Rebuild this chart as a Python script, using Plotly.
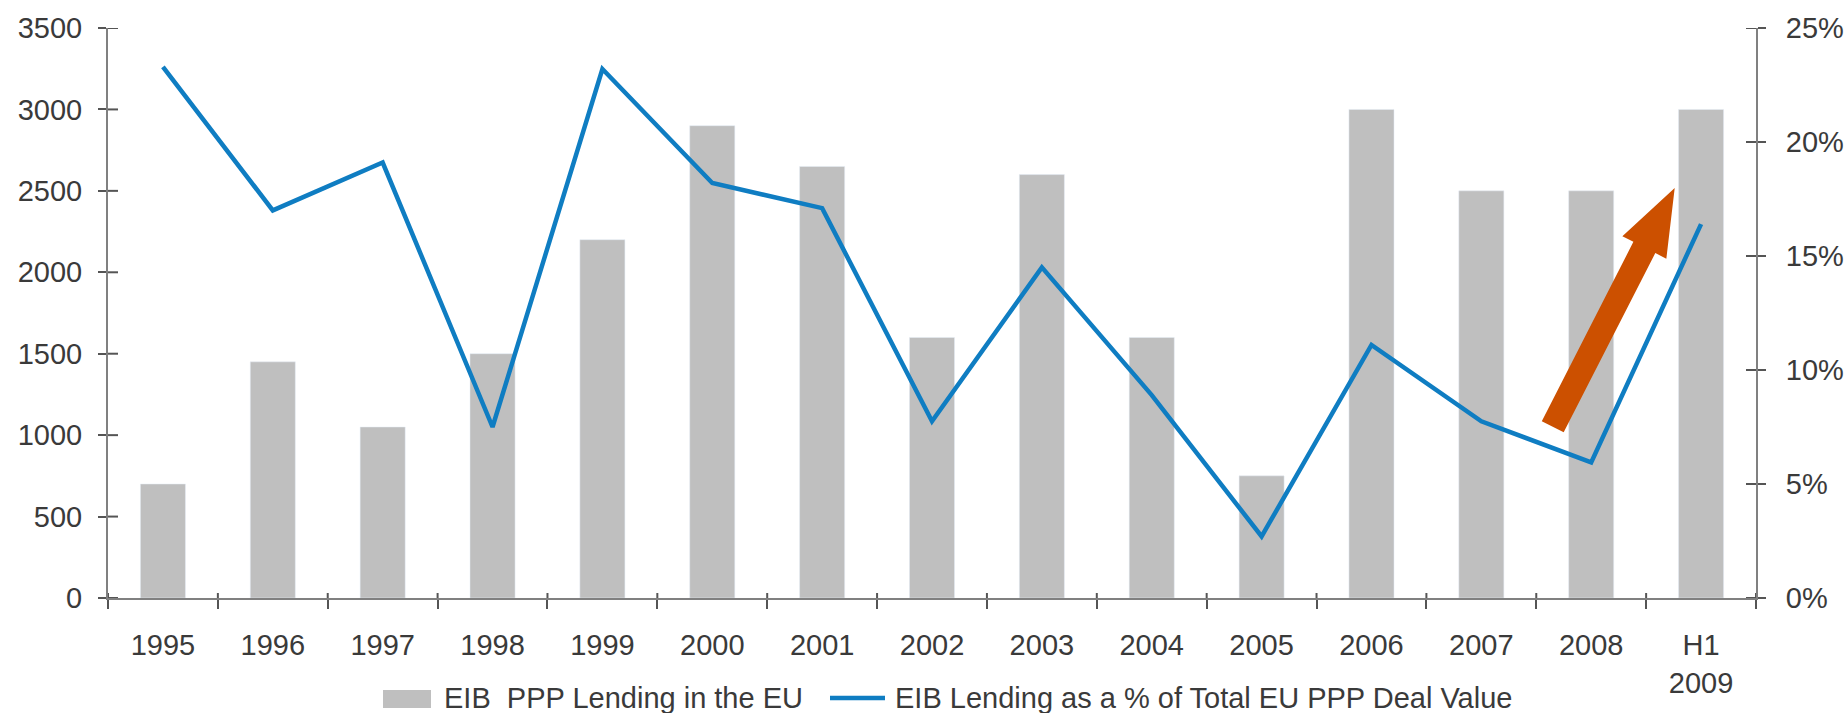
import plotly.graph_objects as go

# ---- data ----
years = ["1995", "1996", "1997", "1998", "1999", "2000", "2001", "2002",
         "2003", "2004", "2005", "2006", "2007", "2008", "H1<br>2009"]
eib_lending = [700, 1450, 1050, 1500, 2200, 2900, 2650, 1600,
               2600, 1600, 750, 3000, 2500, 2500, 3000]
eib_share_pct = [23.3, 17.0, 19.1, 7.5, 23.2, 18.2, 17.1, 7.75,
                 14.5, 8.9, 2.7, 11.1, 7.75, 5.95, 16.4]
left_ticks = [0, 500, 1000, 1500, 2000, 2500, 3000, 3500]
right_ticks = [0, 5, 10, 15, 20, 25]
right_labels = [f"{v}%" for v in right_ticks]
legend_labels = ["EIB\u00a0 PPP Lending in the EU",
                 "EIB Lending as a % of Total EU PPP Deal Value"]

# ---- layout geometry ----
W, H = 1848, 713
ML, MR, MT, MB = 108, 92, 28, 115
PW, PH = W - ML - MR, H - MT - MB

FONT = "Liberation Sans, Arial, sans-serif"
TXT = "#3a3a3a"
AXC = "#808080"
TICKC = "#555555"
BAR_C = "#BFBFBF"
LINE_C = "#0F7DC2"
ARROW_C = "#CC5000"
FS = 29

fig = go.Figure()
fig.add_trace(go.Bar(x=years, y=eib_lending, marker_color=BAR_C, width=0.41,
                     name=legend_labels[0], hoverinfo="x+y"))
fig.add_trace(go.Scatter(x=years, y=eib_share_pct, yaxis="y2", mode="lines",
                         line=dict(color=LINE_C, width=4.5),
                         name=legend_labels[1]))

fig.update_layout(
    width=W, height=H,
    margin=dict(l=ML, r=MR, t=MT, b=MB, pad=0, autoexpand=False),
    paper_bgcolor="white", plot_bgcolor="white",
    font=dict(family=FONT, size=FS, color=TXT),
    showlegend=False,
    xaxis=dict(type="category", categoryorder="array", categoryarray=years,
               range=[-0.5, len(years) - 0.5], tickson="boundaries",
               showline=True, linecolor=AXC, linewidth=2, automargin=False,
               ticks="outside", ticklen=9, tickwidth=2, tickcolor=TICKC,
               showgrid=False, zeroline=False, ticklabelstandoff=20,
               tickfont=dict(size=FS, color=TXT)),
    yaxis=dict(range=[0, 3500], tickmode="array", tickvals=left_ticks,
               ticks="outside", ticklen=8, tickwidth=2, tickcolor=TICKC,
               showline=True, linecolor=AXC, linewidth=2, automargin=False,
               showgrid=False, zeroline=False, ticklabelstandoff=10,
               tickfont=dict(size=FS, color=TXT)),
    yaxis2=dict(range=[0, 25], tickmode="array", tickvals=right_ticks,
                ticktext=right_labels, overlaying="y", side="right",
                ticks="outside", ticklen=8, tickwidth=2, tickcolor=TICKC,
                showline=True, linecolor=AXC, linewidth=2, automargin=False,
                showgrid=False, zeroline=False, ticklabelstandoff=14,
                tickfont=dict(size=FS, color=TXT)),
)

# inward halves of the cross-shaped tick marks
IN_Y, IN_X = 10, 5
for v in left_ticks:
    fig.add_shape(type="line", xref="paper", yref="y", x0=0, x1=IN_Y / PW,
                  y0=v, y1=v, line=dict(color=TICKC, width=2))
for v in right_ticks:
    fig.add_shape(type="line", xref="paper", yref="y2", x0=1 - IN_Y / PW, x1=1,
                  y0=v, y1=v, line=dict(color=TICKC, width=2))
for i in range(len(years) + 1):
    fig.add_shape(type="line", xref="x", yref="paper", x0=i - 0.5, x1=i - 0.5,
                  y0=0, y1=IN_X / PH, line=dict(color=TICKC, width=2))


# ---- trend arrow, defined in (category index, percent) space ----
def to_px(idx, pct):
    return (ML + (idx + 0.5) / len(years) * PW, MT + PH * (1 - pct / 25))


def to_paper(px, py):
    return ((px - ML) / PW, 1 - (py - MT) / PH)


tail_idx, tail_pct = 12.65, 7.51
tip_idx, tip_pct = 13.76, 17.98
shaft_half, head_half, head_len = 12.3, 24.7, 66.7

tx, ty = to_px(tail_idx, tail_pct)
hx, hy = to_px(tip_idx, tip_pct)
dx, dy = hx - tx, hy - ty
L = (dx ** 2 + dy ** 2) ** 0.5
ux, uy = dx / L, dy / L
nx, ny = -uy, ux
bx, by = hx - ux * head_len, hy - uy * head_len
poly = [
    (tx + nx * shaft_half, ty + ny * shaft_half),
    (bx + nx * shaft_half, by + ny * shaft_half),
    (bx + nx * head_half, by + ny * head_half),
    (hx, hy),
    (bx - nx * head_half, by - ny * head_half),
    (bx - nx * shaft_half, by - ny * shaft_half),
    (tx - nx * shaft_half, ty - ny * shaft_half),
]
pts = [to_paper(px, py) for px, py in poly]
path = "M" + " L".join(f"{x:.5f},{y:.5f}" for x, y in pts) + " Z"
fig.add_shape(type="path", path=path, xref="paper", yref="paper",
              fillcolor=ARROW_C, line=dict(width=0), layer="above")

# ---- legend row below the axis ----
leg_y = 698
bar_sw = to_paper(383, 690), to_paper(431, 708)
fig.add_shape(type="rect", xref="paper", yref="paper",
              x0=bar_sw[0][0], y0=bar_sw[0][1], x1=bar_sw[1][0], y1=bar_sw[1][1],
              fillcolor=BAR_C, line=dict(width=0))
l0, l1 = to_paper(830, leg_y), to_paper(885, leg_y)
fig.add_shape(type="line", xref="paper", yref="paper",
              x0=l0[0], y0=l0[1], x1=l1[0], y1=l1[1],
              line=dict(color=LINE_C, width=4.5))
for label, x_px in zip(legend_labels, [442, 893]):
    ax_, ay_ = to_paper(x_px, leg_y)
    fig.add_annotation(text=label, xref="paper", yref="paper", x=ax_, y=ay_,
                       xanchor="left", yanchor="middle", showarrow=False,
                       font=dict(size=FS, color=TXT, family=FONT))

fig.write_html("out.html")
